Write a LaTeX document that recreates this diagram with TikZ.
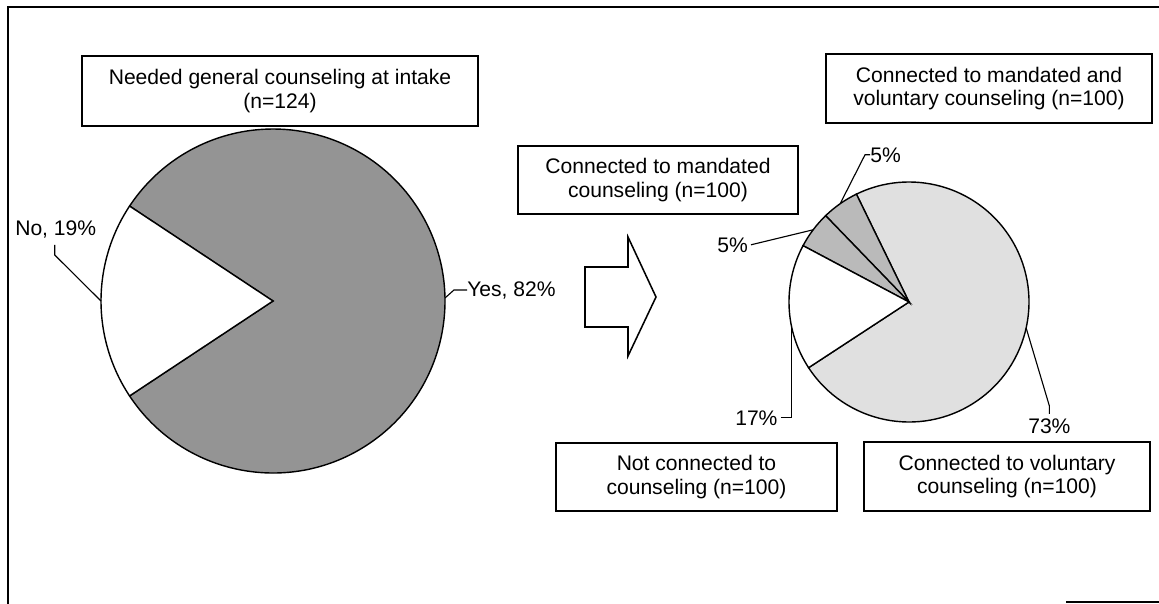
\documentclass[tikz,border=0pt]{standalone}
\usepackage{fontspec}
\setmainfont{Liberation Sans}
\usetikzlibrary{positioning}

\begin{document}
\begin{tikzpicture}[x=0.025cm, y=-0.025cm]

\tikzset{infobox/.style = {shape=rectangle, draw, line width=1.2pt, align=center, font=\fontsize{15}{17}\selectfont}}
\tikzset{pct/.style = {inner sep=0pt, font=\fontsize{15}{17}\selectfont}}
\tikzset{leader/.style = {line width=0.8pt}}
\tikzset{slice/.style = {draw, line width=1pt}}

\useasboundingbox (0,0) rectangle (1159,604);
% frame
\draw[line width=1.2pt] (8,604) -- (8,7) -- (1159,7);
\draw[line width=1.2pt] (1066,602) -- (1159,602);

% boxes
\node[infobox, minimum width=9.9cm, minimum height=1.75cm] (intake) at (280,91) {Needed general counseling at intake\\(n=124)};
\node[infobox, minimum width=7cm, minimum height=1.7cm] (mandated) at (658,180) {Connected to mandated\\counseling (n=100)};
\node[infobox, minimum width=8.15cm, minimum height=1.725cm] (both) at (989,88.5) {Connected to mandated and\\voluntary counseling (n=100)};
\node[infobox, minimum width=7.025cm, minimum height=1.7cm] (notconn) at (696.5,477) {Not connected to\\counseling (n=100)};
\node[infobox, minimum width=7.15cm, minimum height=1.725cm] (voluntary) at (1007,476.5) {Connected to voluntary\\counseling (n=100)};

% left pie
\begin{scope}[shift={(273,301)}, y=0.025cm]
\filldraw[slice, fill=black!42] (0,0) -- (213.5:172) arc[start angle=213.5, end angle=506.5, radius=172] -- cycle;
\filldraw[slice, fill=white] (0,0) -- (146.5:172) arc[start angle=146.5, end angle=213.5, radius=172] -- cycle;
\coordinate (noRim) at (180:172);
\coordinate (yesRim) at (1:172);
\end{scope}

% right pie
\begin{scope}[shift={(909,302)}, y=0.025cm]
\filldraw[slice, fill=black!12] (0,0) -- (213.2:120) arc[start angle=213.2, end angle=476, radius=120] -- cycle;
\filldraw[slice, fill=black!27] (0,0) -- (116:120) arc[start angle=116, end angle=134, radius=120] -- cycle;
\filldraw[slice, fill=black!27] (0,0) -- (134:120) arc[start angle=134, end angle=152, radius=120] -- cycle;
\filldraw[slice, fill=white] (0,0) -- (152:120) arc[start angle=152, end angle=213.2, radius=120] -- cycle;
\coordinate (topRim) at (125:120);
\coordinate (leftRim) at (143:120);
\coordinate (whiteRim) at (191:120);
\coordinate (bigRim) at (347.5:120);
\end{scope}

% arrow
\draw[line width=1.1pt] (585,267) -- (628,267) -- (628,237) -- (656,297) -- (628,356) -- (628,327) -- (585,327) -- cycle;

% labels
\node[pct, anchor=base west] (nolab) at (15,235) {No, 19\%};
\node[pct, anchor=base west] (yeslab) at (467,296) {Yes, 82\%};
\node[pct, anchor=base west] (toplab) at (870,162) {5\%};
\node[pct, anchor=base west] (leftlab) at (717,252) {5\%};
\node[pct, anchor=base west] (whitelab) at (735,425) {17\%};
\node[pct, anchor=base west] (biglab) at (1028,433) {73\%};

% leaders
\draw[leader] (nolab.south) ++(-1,7) -- ++(0,10) -- (noRim);
\draw[leader] (yeslab.west) -- ++(-13,0) -- (yesRim);
\draw[leader] (toplab.west) -- ++(-5,0) -- (topRim);
\draw[leader] (leftlab.east) ++(3,0) -- (leftRim);
\draw[leader] (whitelab.east) ++(3,0) -| (whiteRim);
\draw[leader] (biglab.north) ++(0,-4) -- ++(0,-8) -- (bigRim);
\end{tikzpicture}
\end{document}
